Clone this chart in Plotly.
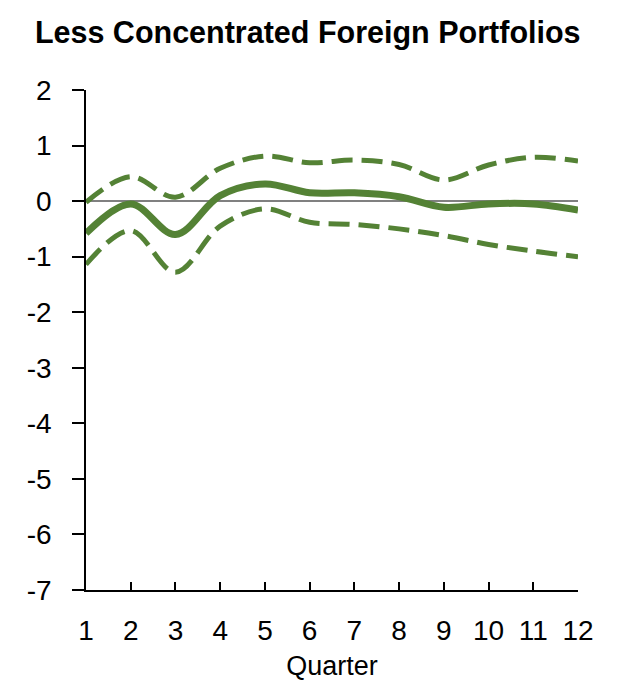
import plotly.graph_objects as go

quarters = list(range(1, 13))
central = [-0.58, -0.05, -0.6, 0.1, 0.31, 0.15, 0.15, 0.08, -0.11, -0.05, -0.05, -0.16]
upper = [-0.02, 0.44, 0.07, 0.59, 0.81, 0.69, 0.74, 0.66, 0.38, 0.65, 0.79, 0.72]
lower = [-1.14, -0.53, -1.28, -0.45, -0.14, -0.38, -0.42, -0.5, -0.62, -0.78, -0.9, -1.0]
y_ticks = [2, 1, 0, -1, -2, -3, -4, -5, -6, -7]
y_labels = ["2", "1", "0", "-1", "-2", "-3", "-4", "-5", "-6", "-7"]

green = "#548235"
font = "Liberation Sans, Arial"

fig = go.Figure()
for vals in (upper, lower):
    fig.add_trace(go.Scatter(
        x=quarters, y=vals, mode="lines",
        line=dict(color=green, width=5, dash="21px,9px", shape="spline", smoothing=1.0),
        showlegend=False, cliponaxis=False,
    ))
fig.add_trace(go.Scatter(
    x=quarters, y=central, mode="lines",
    line=dict(color=green, width=7, shape="spline", smoothing=1.0),
    showlegend=False, cliponaxis=False,
))

# page has an 8px body margin, so margins are offset by it
fig.update_layout(
    width=618, height=684,
    margin=dict(l=78, r=48, t=82, b=102),
    plot_bgcolor="white", paper_bgcolor="white",
    font=dict(family=font, size=28, color="black"),
    title=dict(text="<b>Less Concentrated Foreign Portfolios</b>",
               x=0.485, xanchor="center", y=1 - 24 / 684, yanchor="middle",
               font=dict(family=font, size=30.5, color="black")),
    xaxis=dict(range=[1, 12], tickvals=quarters, showgrid=False, zeroline=False,
               showline=True, linecolor="black", linewidth=1.5,
               ticks="inside", ticklen=8, tickcolor="black", tickwidth=1.5,
               ticklabelstandoff=15,
               title=dict(text="Quarter", standoff=11, font=dict(size=27))),
    yaxis=dict(range=[-7, 2], tickvals=y_ticks, ticktext=y_labels, showgrid=False,
               zeroline=True, zerolinecolor="#808080", zerolinewidth=1.5,
               showline=True, linecolor="black", linewidth=1.5,
               ticks="outside", ticklen=12, tickcolor="black", tickwidth=1.5,
               ticklabelstandoff=15),
)

fig.write_html("out.html")
